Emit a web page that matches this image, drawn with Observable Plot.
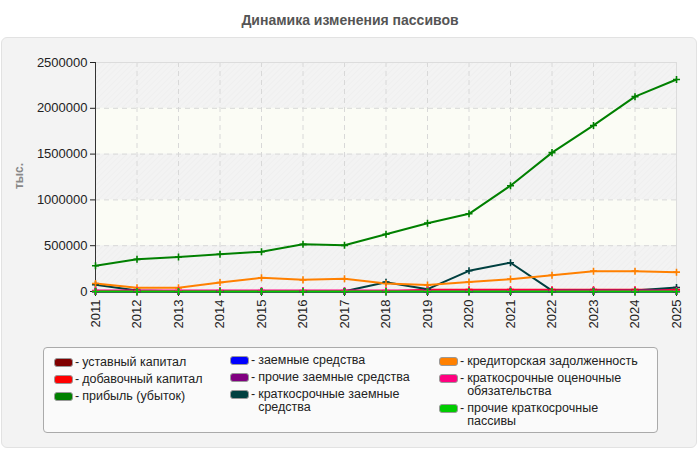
<!DOCTYPE html>
<html><head><meta charset="utf-8">
<script src="https://cdn.jsdelivr.net/npm/d3@7"></script>
<script src="https://cdn.jsdelivr.net/npm/@observablehq/plot@0.6"></script>
<style>
body{margin:0;background:#fff;font-family:"Liberation Sans",Arial,sans-serif;}
#wrap{position:relative;width:700px;height:450px;overflow:hidden;}
#title{position:absolute;top:0;left:0;width:700px;height:37px;line-height:41px;text-align:center;font-weight:bold;font-size:14px;color:#555;}
#panel{position:absolute;top:37px;left:1px;width:696px;height:411px;background:#f3f3f3;border:1px solid #e2e2e2;border-radius:6px;box-sizing:border-box;}
#chart{position:absolute;top:37px;left:0;}
#ylab{position:absolute;left:19px;top:176px;transform:translate(-50%,-50%) rotate(-90deg);font-weight:bold;font-size:12px;color:#888;}
#legend{position:absolute;left:43px;top:347px;width:615px;height:86px;box-sizing:border-box;background:#fafafa;border:1px solid #aaa;border-radius:4px;}
.col{position:absolute;}
.item{display:flex;align-items:flex-start;margin-bottom:4px;font-size:12.5px;line-height:13px;color:#222;}
.sw{flex:none;width:19px;height:9px;border-radius:3px;border:1px solid #999;margin-top:2px;box-sizing:border-box;}
.dash{flex:none;margin:0 3px 0 2px;}
</style>
</head><body>
<div id="wrap">
  <div id="title">Динамика изменения пассивов</div>
  <div id="panel"></div>
  <div id="chart"></div>
  <div id="ylab">тыс.</div>
  <div id="legend"></div>
</div>
<script>
const years = [2011,2012,2013,2014,2015,2016,2017,2018,2019,2020,2021,2022,2023,2024,2025];
const names = [
  "уставный капитал",
  "добавочный капитал",
  "прибыль (убыток)",
  "заемные средства",
  "прочие заемные средства",
  "краткосрочные заемные средства",
  "кредиторская задолженность",
  "краткосрочные оценочные обязательства",
  "прочие краткосрочные пассивы"
];
const colors = ["#800000","#ff0000","#008000","#0000ff","#800080","#004040","#ff8000","#ff0080","#00cc00"];

const ustavny     = [10,10,10,10,10,10,10,10,10,10,10,10,10,10,10];
const dobavochny  = [0,0,0,0,0,0,0,0,20000,20000,20000,20000,20000,20000,20000];
const pribyl      = [281000,351000,376000,406000,434000,515000,504000,625000,746000,848000,1155000,1516000,1813000,2127000,2314000];
const zaemnye     = [0,0,0,0,0,0,0,0,0,0,0,0,0,0,0];
const prochieZaem = [0,0,0,0,0,0,0,0,0,0,0,0,0,0,0];
const kratkZaem   = [73000,12000,2000,2000,2000,2000,2000,102000,25000,226000,314000,10000,10000,10000,44000];
const kreditor    = [88000,40000,40000,99000,149000,127000,138000,88000,70000,103000,135000,178000,222000,222000,211000];
const ocenochnye  = [10000,10000,10000,10000,10000,10000,10000,10000,10000,10000,10000,10000,10000,10000,10000];
const prochieKr   = [0,0,0,0,0,0,0,0,0,0,0,0,0,0,0];
const series = [ustavny,dobavochny,pribyl,zaemnye,prochieZaem,kratkZaem,kreditor,ocenochnye,prochieKr];

const yTicks = [0,500000,1000000,1500000,2000000,2500000];

const data = names.flatMap((n,i)=>years.map((y,j)=>({name:n, year:y, value:series[i][j]})));
const bands = yTicks.slice(0,-1).map((t,i)=>({y1:t, y2:yTicks[i+1], hatch:i%2===0}));
const x0 = years[0], x1 = years[years.length-1];

const chart = Plot.plot({
  width:700, height:310,
  marginLeft:95, marginRight:24, marginTop:25, marginBottom:56,
  style:{fontFamily:"'Liberation Sans', Arial, sans-serif", fontSize:"13px", color:"#222", background:"transparent", overflow:"visible"},
  x:{domain:[x0,x1]},
  y:{domain:[0,2500000]},
  color:{domain:names, range:colors},
  marks:[
    Plot.rect(bands.filter(d=>d.hatch),{x1:()=>x0, x2:()=>x1, y1:"y1", y2:"y2", fill:"url(#hatch)"}),
    Plot.rect(bands.filter(d=>!d.hatch),{x1:()=>x0, x2:()=>x1, y1:"y1", y2:"y2", fill:"#fbfcf5"}),
    Plot.gridX(years,{stroke:"#d8d8d8", strokeOpacity:1, strokeDasharray:"5,4"}),
    Plot.gridY(yTicks,{stroke:"#d8d8d8", strokeOpacity:1, strokeDasharray:"5,4"}),
    Plot.frame({stroke:"#dcdcdc"}),
    Plot.ruleX([x0],{stroke:"#333"}),
    Plot.ruleY([0],{stroke:"#333"}),
    Plot.axisY(yTicks,{tickSize:5, tickPadding:3, tickFormat:d=>String(d), label:null}),
    Plot.axisX(years,{tickRotate:-90, tickSize:5, tickPadding:3, tickFormat:d=>String(d), label:null}),
    Plot.lineY(data,{x:"year", y:"value", z:"name", stroke:"name", strokeWidth:2}),
    Plot.dot(data,{x:"year", y:"value", stroke:"name", symbol:"plus", r:2.4, strokeWidth:1.6})
  ]
});

const ns = "http://www.w3.org/2000/svg";
const defs = document.createElementNS(ns,"defs");
defs.innerHTML = '<pattern id="hatch" patternUnits="userSpaceOnUse" width="4" height="4" patternTransform="rotate(45)"><rect width="4" height="4" fill="#f3f3f3"/><line x1="0" y1="0" x2="0" y2="4" stroke="#ebebeb" stroke-width="1"/></pattern>';
chart.insertBefore(defs, chart.firstChild);
document.getElementById("chart").appendChild(chart);

// legend
const cols = [
  {left:10, top:8, idx:[0,1,2], width:200},
  {left:186, top:6, idx:[3,4,5], width:165},
  {left:395, top:7, idx:[6,7,8], width:178}
];
const leg = document.getElementById("legend");
cols.forEach(c=>{
  const col = document.createElement("div");
  col.className = "col";
  col.style.left = c.left+"px";
  col.style.top = c.top+"px";
  c.idx.forEach(i=>{
    const it = document.createElement("div");
    it.className = "item";
    const sw = document.createElement("div");
    sw.className = "sw";
    sw.style.background = colors[i];
    const dash = document.createElement("span");
    dash.className = "dash";
    dash.textContent = "-";
    const tx = document.createElement("span");
    tx.textContent = names[i];
    tx.style.maxWidth = c.width+"px";
    it.append(sw,dash,tx);
    col.appendChild(it);
  });
  leg.appendChild(col);
});
</script>
</body></html>
